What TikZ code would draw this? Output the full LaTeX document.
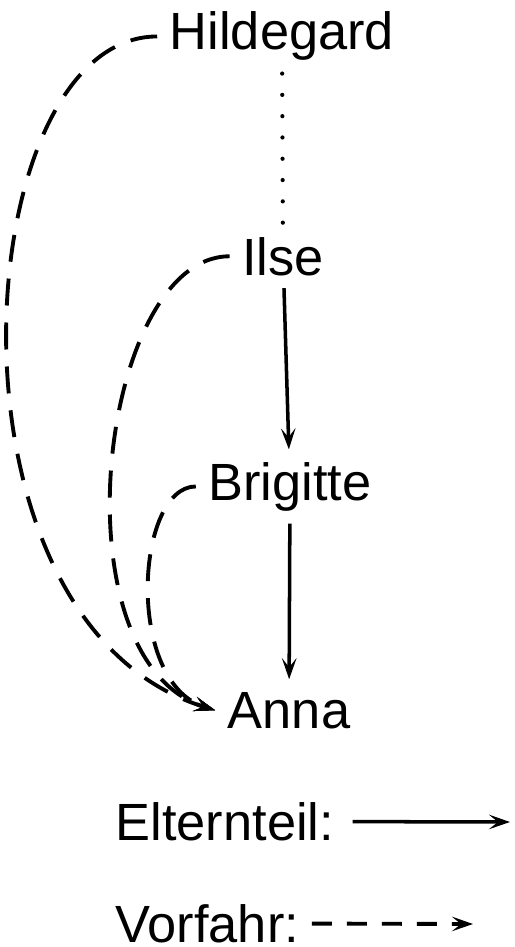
\documentclass[tikz,border=0pt]{standalone}
\usepackage{fontspec}
\setmainfont{Liberation Sans}
\usetikzlibrary{arrows.meta}
\pgfdeclarelayer{edgelayer}
\pgfdeclarelayer{nodelayer}
\pgfsetlayers{edgelayer,nodelayer,main}
\tikzstyle{none}=[inner sep=0pt]
\tikzstyle{person}=[inner sep=0.12cm,anchor=base,font=\fontsize{14.9}{18}\selectfont]
\tikzstyle{legend}=[person,inner sep=0.04cm,anchor=base west]
\tikzstyle{parent}=[-{Stealth[length=0.21cm,width=0.145cm,inset=0.09cm]},draw=black,line width=1pt]
\tikzstyle{ancestor}=[parent,line width=1.1pt,dash pattern=on 0.27cm off 0.17cm]
\tikzstyle{unknown}=[-,draw=black,line width=1.2pt,line cap=round,dash pattern=on 0pt off 0.213cm]

\begin{document}
\begin{tikzpicture}
	\useasboundingbox (0, 0) rectangle (5.15, -9.47);
	\begin{pgfonlayer}{nodelayer}
		\node [style=person] (0) at (2.82, -0.50) {Hildegard};
		\node [style=person] (1) at (2.83, -2.75) {Ilse};
		\node [style=person] (2) at (2.90, -5.00) {Brigitte};
		\node [style=person] (3) at (2.89, -7.28) {Anna};
		\node [style=legend] (4) at (1.11, -8.40) {Elternteil:};
		\node [style=legend] (5) at (1.11, -9.42) {Vorfahr:};
		\node [style=none] (6) at (5.10, -8.22) {};
		\node [style=none] (7) at (4.73, -9.24) {};
	\end{pgfonlayer}
	\begin{pgfonlayer}{edgelayer}
		\draw [style=unknown] (0) to (1);
		\draw [style=parent] (1) to (2);
		\draw [style=parent] (2) to (3);
		\draw [style=ancestor] (0.west) to [out=180, in=163, out distance=1.9cm, in distance=3cm] (3.west);
		\draw [style=ancestor] (1.west) to [out=180, in=163, out distance=1.3cm, in distance=1.7cm] (3.west);
		\draw [style=ancestor] (2.west) to [out=180, in=163, out distance=0.6cm, in distance=0.95cm] (3.west);
		\draw [style=parent, shorten <=0.14cm] (4) to (6.center);
		\draw [style=ancestor, shorten <=0.08cm, dash pattern=on 0.2cm off 0.15cm] (5) to (7.center);
	\end{pgfonlayer}
\end{tikzpicture}
\end{document}
